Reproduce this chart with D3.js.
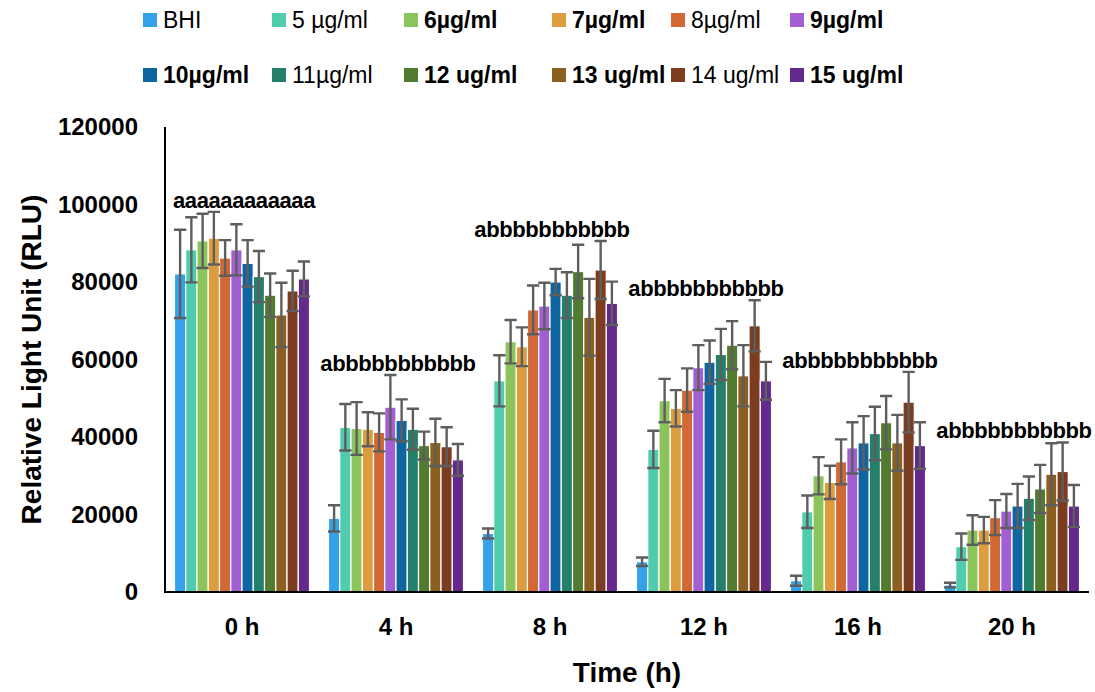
<!DOCTYPE html>
<html>
<head>
<meta charset="utf-8">
<script src="https://cdn.jsdelivr.net/npm/d3@7"></script>
<style>
  body { margin: 0; background: #fff; }
  text { font-family: "Liberation Sans", Arial, sans-serif; }
</style>
</head>
<body>
<div id="svganchor"></div>
<script>
/*
------------------------------
DATA: time points, treatments, means and error bars (RLU)
------------------------------
*/
const times = ["0 h", "4 h", "8 h", "12 h", "16 h", "20 h"];
const series = ["BHI", "5 µg/ml", "6µg/ml", "7µg/ml", "8µg/ml", "9µg/ml",
  "10µg/ml", "11µg/ml", "12 ug/ml", "13 ug/ml", "14 ug/ml", "15 ug/ml"];

const mean0h = [82100, 88300, 90600, 91300, 86200, 88300, 84800, 81400, 76600, 71500, 77700, 80800];
const mean4h = [19000, 42500, 42200, 42000, 41200, 47700, 44300, 42000, 37800, 38600, 37500, 34100];
const mean8h = [15100, 54500, 64600, 63300, 72800, 73800, 80000, 76600, 82700, 70900, 83100, 74500];
const mean12h = [7800, 36800, 49400, 47400, 52100, 57900, 59300, 61300, 63700, 55800, 68700, 54500];
const mean16h = [2900, 20700, 30000, 28300, 33600, 37200, 38500, 40900, 43700, 38500, 49000, 37800];
const mean20h = [1800, 11700, 16000, 16000, 19200, 20900, 22200, 24200, 26600, 30400, 31100, 22200];

const err0h = [11400, 8400, 7000, 6800, 4600, 6600, 6000, 6600, 5600, 8300, 5200, 4500];
const err4h = [3400, 6000, 6800, 4400, 4900, 8300, 5400, 5300, 3600, 6100, 5000, 4100];
const err8h = [1300, 6600, 5600, 5000, 6300, 6000, 3400, 5900, 6900, 9900, 7500, 5600];
const err12h = [1100, 4800, 5600, 4700, 5600, 5800, 5600, 6600, 6200, 7900, 6600, 4900];
const err16h = [1300, 4200, 4800, 4300, 5800, 6600, 6900, 6900, 6900, 7200, 7800, 6000];
const err20h = [600, 3400, 3800, 3400, 4500, 4400, 5700, 5600, 6200, 8000, 7500, 5400];

const letters = ["aaaaaaaaaaaa", "abbbbbbbbbbb", "abbbbbbbbbbb", "abbbbbbbbbbb", "abbbbbbbbbbb", "abbbbbbbbbbb"];
const yTicks = [0, 20000, 40000, 60000, 80000, 100000, 120000];

const means = [mean0h, mean4h, mean8h, mean12h, mean16h, mean20h];
const errs = [err0h, err4h, err8h, err12h, err16h, err20h];

const colors = ["#33a2ea", "#4fcbae", "#8bc45b", "#dd9d3f", "#d26833", "#a35ed4",
  "#0f659f", "#24806b", "#517b2f", "#8a5f1f", "#7b3c1f", "#65298d"];
// legend entries that look heavier in the original
const boldLegend = [false, false, true, true, false, true, true, false, true, true, false, true];

/*
------------------------------
METHOD: set the size of the canvas
------------------------------
*/
const width = 1095;
const height = 692;
const margin = { top: 127, left: 165, right: 6, bottom: 100 };

const svg = d3.select("#svganchor")
  .append("svg")
  .attr("width", width)
  .attr("height", height);

const x0 = d3.scaleBand()
  .domain(times)
  .range([margin.left, width - margin.right])
  .paddingInner(0.123)
  .paddingOuter(0.0615);

const x1 = d3.scaleBand()
  .domain(series)
  .range([0, x0.bandwidth()]);

const y = d3.scaleLinear()
  .domain([0, 120000])
  .range([height - margin.bottom, margin.top]);

// flatten into one row per bar
let rows = [];
times.forEach((t, i) => {
  series.forEach((s, j) => {
    rows.push({ time: t, series: s, idx: j, value: means[i][j], err: errs[i][j] });
  });
});

/*
------------------------------
SECTION: bars and error bars
------------------------------
*/
const bars = svg.append("g");

bars.selectAll("rect")
  .data(rows)
  .join("rect")
  .attr("x", d => x0(d.time) + x1(d.series))
  .attr("y", d => y(d.value))
  .attr("width", x1.bandwidth())
  .attr("height", d => y(0) - y(d.value))
  .attr("fill", d => colors[d.idx])
  .attr("stroke", "#fff")
  .attr("stroke-width", 1.2);

const errG = svg.append("g")
  .attr("stroke", "#5e5e5e")
  .attr("stroke-width", 2.4)
  .attr("fill", "none");

const cx = d => x0(d.time) + x1(d.series) + x1.bandwidth() / 2;
const capHalf = x1.bandwidth() / 2 + 0.5;

errG.selectAll("path")
  .data(rows)
  .join("path")
  .attr("d", d => {
    let top = y(d.value + d.err), bot = y(d.value - d.err), c = cx(d);
    return `M${c},${top}V${bot}M${c - capHalf},${top}H${c + capHalf}M${c - capHalf},${bot}H${c + capHalf}`;
  });

/*
------------------------------
SECTION: significance letters above each group
------------------------------
*/
svg.append("g")
  .selectAll("text")
  .data(times)
  .join("text")
  .attr("x", t => x0(t) + x0.bandwidth() / 2 + 2)
  .attr("y", (t, i) => y(d3.max(means[i].map((m, j) => m + errs[i][j]))) - 4)
  .attr("text-anchor", "middle")
  .style("font-size", "22px")
  .style("font-weight", "bold")
  .style("letter-spacing", "-0.4px")
  .text((t, i) => letters[i]);

/*
------------------------------
SECTION: axes
------------------------------
*/
svg.append("line")
  .attr("x1", margin.left).attr("x2", margin.left)
  .attr("y1", y(120000)).attr("y2", y(0))
  .attr("stroke", "#000").attr("stroke-width", 2);

svg.append("line")
  .attr("x1", margin.left - 1).attr("x2", width - margin.right)
  .attr("y1", y(0)).attr("y2", y(0))
  .attr("stroke", "#000").attr("stroke-width", 2.2);

svg.append("g")
  .selectAll("text")
  .data(yTicks)
  .join("text")
  .attr("x", margin.left - 27)
  .attr("y", d => y(d))
  .attr("dy", "0.35em")
  .attr("text-anchor", "end")
  .style("font-size", "24px")
  .style("font-weight", "bold")
  .text(d => d);

svg.append("g")
  .selectAll("text")
  .data(times)
  .join("text")
  .attr("x", t => x0(t) + x0.bandwidth() / 2)
  .attr("y", y(0) + 43)
  .attr("text-anchor", "middle")
  .style("font-size", "24px")
  .style("font-weight", "bold")
  .text(t => t);

svg.append("text")
  .attr("x", x0.range()[0] + (x0.range()[1] - x0.range()[0]) / 2)
  .attr("y", 682)
  .attr("text-anchor", "middle")
  .style("font-size", "28px")
  .style("font-weight", "bold")
  .text("Time (h)");

svg.append("text")
  .attr("transform", `translate(41,${(y(0) + y(120000)) / 2}) rotate(-90)`)
  .attr("text-anchor", "middle")
  .style("font-size", "28px")
  .style("font-weight", "bold")
  .text("Relative Light Unit (RLU)");

/*
------------------------------
SECTION: legend, two rows of six
------------------------------
*/
const legendCols = [143, 272, 404, 552, 671, 790];
const legendRows = [13, 68];

const legend = svg.append("g")
  .selectAll("g")
  .data(series)
  .join("g")
  .attr("transform", (d, i) => `translate(${legendCols[i % 6]},${legendRows[Math.floor(i / 6)]})`);

legend.append("rect")
  .attr("width", 14)
  .attr("height", 14)
  .attr("fill", (d, i) => colors[i]);

legend.append("text")
  .attr("x", 20)
  .attr("y", 15)
  .style("font-size", "23px")
  .style("font-weight", (d, i) => boldLegend[i] ? "bold" : "normal")
  .text(d => d);
</script>
</body>
</html>
